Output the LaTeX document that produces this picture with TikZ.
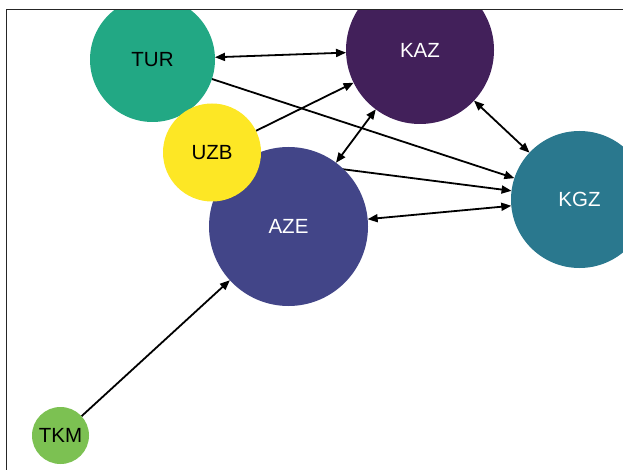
\documentclass[tikz,border=0pt]{standalone}
\usepackage{fontspec}
\setmainfont{Liberation Sans}
\usetikzlibrary{arrows.meta}
\pgfdeclarelayer{bg}
\pgfsetlayers{bg,main}
\definecolor{cTUR}{HTML}{22A884}
\definecolor{cKAZ}{HTML}{42205A}
\definecolor{cKGZ}{HTML}{2A788E}
\definecolor{cAZE}{HTML}{424588}
\definecolor{cUZB}{HTML}{FDE725}
\definecolor{cTKM}{HTML}{7CC152}
\begin{document}
\begin{tikzpicture}[x=1pt,y=-1pt,
  country/.style={circle,inner sep=0pt,outer sep=0pt,draw=none,font=\fontsize{20.5}{21}\selectfont},
  link/.style={line width=1.8pt,black},
  onehead/.style={-{Triangle[length=10pt,width=8pt]}},
  twohead/.style={{Triangle[length=10pt,width=8pt]}-{Triangle[length=10pt,width=8pt]}},
  axisframe/.style={line width=1.6pt,black!85}]
\useasboundingbox (0,0) rectangle (623,470);
\begin{scope}
\clip (6.5,9.5) rectangle (630,480);
\node[country,fill=cAZE,minimum size=159pt,text=white] (AZE) at (288.5,226.5) {AZE};
\node[country,fill=cTUR,minimum size=125pt,text=black] (TUR) at (152.5,59.5) {TUR};
\node[country,fill=cKAZ,minimum size=148pt,text=white] (KAZ) at (420,50) {KAZ};
\node[country,fill=cKGZ,minimum size=137pt,text=white] (KGZ) at (579.5,199.5) {KGZ};
\node[country,fill=cTKM,minimum size=57pt,text=black] (TKM) at (60.5,435.5) {TKM};
\node[country,fill=cUZB,minimum size=98pt,text=black] (UZB) at (212,152.5) {UZB};
\end{scope}
\begin{pgfonlayer}{bg}
\draw[link,twohead] (TUR) -- (KAZ);
\draw[link,onehead] (TUR) -- (KGZ);
\draw[link,onehead] (UZB) -- (KAZ);
\draw[link,onehead] (UZB) -- (KGZ);
\draw[link,twohead] (AZE) -- (KAZ);
\draw[link,twohead] (AZE) -- (KGZ);
\draw[link,twohead] (KAZ) -- (KGZ);
\draw[link,onehead] (TKM) -- (AZE);
\end{pgfonlayer}
\draw[axisframe] (6.5,480) -- (6.5,9.5) -- (630,9.5);
\end{tikzpicture}
\end{document}
